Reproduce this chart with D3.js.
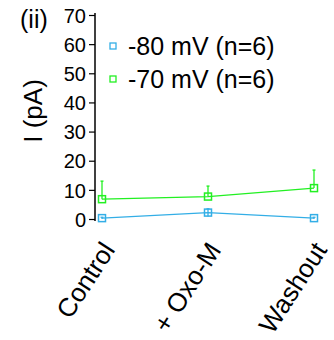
<!DOCTYPE html>
<html>
<head>
<meta charset="utf-8">
<script src="https://cdn.jsdelivr.net/npm/d3@7"></script>
<style>
  body { margin: 0; background: #fff; }
  text { font-family: "Liberation Sans", Arial, sans-serif; fill: #000; }
</style>
</head>
<body>
<div id="chart"></div>
<script>
var categories = ["Control", "+ Oxo-M", "Washout"];
var seriesNames = ["-80 mV (n=6)", "-70 mV (n=6)"];
var colors = ["#33aee6", "#22f022"];
var meanA = [0.3, 2.2, 0.3];
var errA = [0.3, 1.3, 0.3];
var meanB = [6.8, 7.7, 10.6];
var errB = [6.2, 3.6, 6.2];
var yTicks = [0, 10, 20, 30, 40, 50, 60, 70];

var width = 334, height = 340;

var svg = d3.select("#chart").append("svg")
  .attr("width", width)
  .attr("height", height);

var y = d3.scaleLinear().domain([0, 70]).range([219, 15]);
var x = d3.scalePoint().domain(categories).range([102, 314]);

// y axis
var yAxis = d3.axisLeft(y).tickValues(yTicks).tickSize(6).tickPadding(3);
var gy = svg.append("g")
  .attr("transform", "translate(95,0)")
  .call(yAxis);
gy.select(".domain").attr("d", "M0,13V221").attr("stroke", "#000").attr("stroke-width", 1.5);
gy.selectAll(".tick line").attr("stroke", "#000").attr("stroke-width", 1.2);
gy.selectAll(".tick text")
  .style("font-family", "'Liberation Sans', Arial, sans-serif")
  .style("font-size", "20px")
  .attr("fill", "#000")
  .attr("dy", "0.36em");

svg.append("text")
  .attr("transform", "translate(42,111) rotate(-90)")
  .attr("text-anchor", "middle")
  .style("font-size", "26px")
  .text("I (pA)");

svg.append("text")
  .attr("x", 20).attr("y", 28)
  .style("font-size", "25px")
  .text("(ii)");

// x labels
svg.selectAll(".xlab")
  .data(categories)
  .enter().append("text")
  .attr("class", "xlab")
  .attr("text-anchor", "end")
  .attr("transform", function (d) {
    return "translate(" + (x(d) + 14) + ",250) rotate(-57)";
  })
  .style("font-size", "26px")
  .text(function (d) { return d; });

var series = [
  { mean: meanA, err: errA, color: colors[0], both: true },
  { mean: meanB, err: errB, color: colors[1], both: false }
];

var line = d3.line()
  .x(function (d, i) { return x(categories[i]); })
  .y(function (d) { return y(d); });

series.forEach(function (s) {
  var g = svg.append("g");
  g.append("path")
    .attr("d", line(s.mean))
    .attr("fill", "none")
    .attr("stroke", s.color)
    .attr("stroke-width", 1.3);

  g.selectAll(".err")
    .data(s.mean)
    .enter().append("line")
    .attr("x1", function (d, i) { return x(categories[i]); })
    .attr("x2", function (d, i) { return x(categories[i]); })
    .attr("y1", function (d, i) { return s.both ? y(d - s.err[i]) : y(d); })
    .attr("y2", function (d, i) { return y(d + s.err[i]); })
    .attr("stroke", s.color)
    .attr("stroke-width", 1.3);

  g.selectAll(".cap")
    .data(s.mean)
    .enter().append("line")
    .attr("x1", function (d, i) { return x(categories[i]) - 1.5; })
    .attr("x2", function (d, i) { return x(categories[i]) + 1.5; })
    .attr("y1", function (d, i) { return y(d + s.err[i]); })
    .attr("y2", function (d, i) { return y(d + s.err[i]); })
    .attr("stroke", s.color)
    .attr("stroke-width", 1.3);

  g.selectAll(".mk")
    .data(s.mean)
    .enter().append("rect")
    .attr("x", function (d, i) { return x(categories[i]) - 3.5; })
    .attr("y", function (d) { return y(d) - 3.5; })
    .attr("width", 7)
    .attr("height", 7)
    .attr("fill", "none")
    .attr("stroke", s.color)
    .attr("stroke-width", 1.5);
});

// legend
var legend = svg.selectAll(".leg")
  .data(seriesNames)
  .enter().append("g")
  .attr("class", "leg")
  .attr("transform", function (d, i) { return "translate(113," + (46 + i * 33) + ")"; });

legend.append("rect")
  .attr("x", -3).attr("y", -3)
  .attr("width", 6).attr("height", 6)
  .attr("fill", "#fff")
  .attr("stroke", function (d, i) { return colors[i]; })
  .attr("stroke-width", 1.3);

legend.append("text")
  .attr("x", 15)
  .attr("dy", "0.36em")
  .style("font-size", "25px")
  .text(function (d) { return d; });
</script>
</body>
</html>
